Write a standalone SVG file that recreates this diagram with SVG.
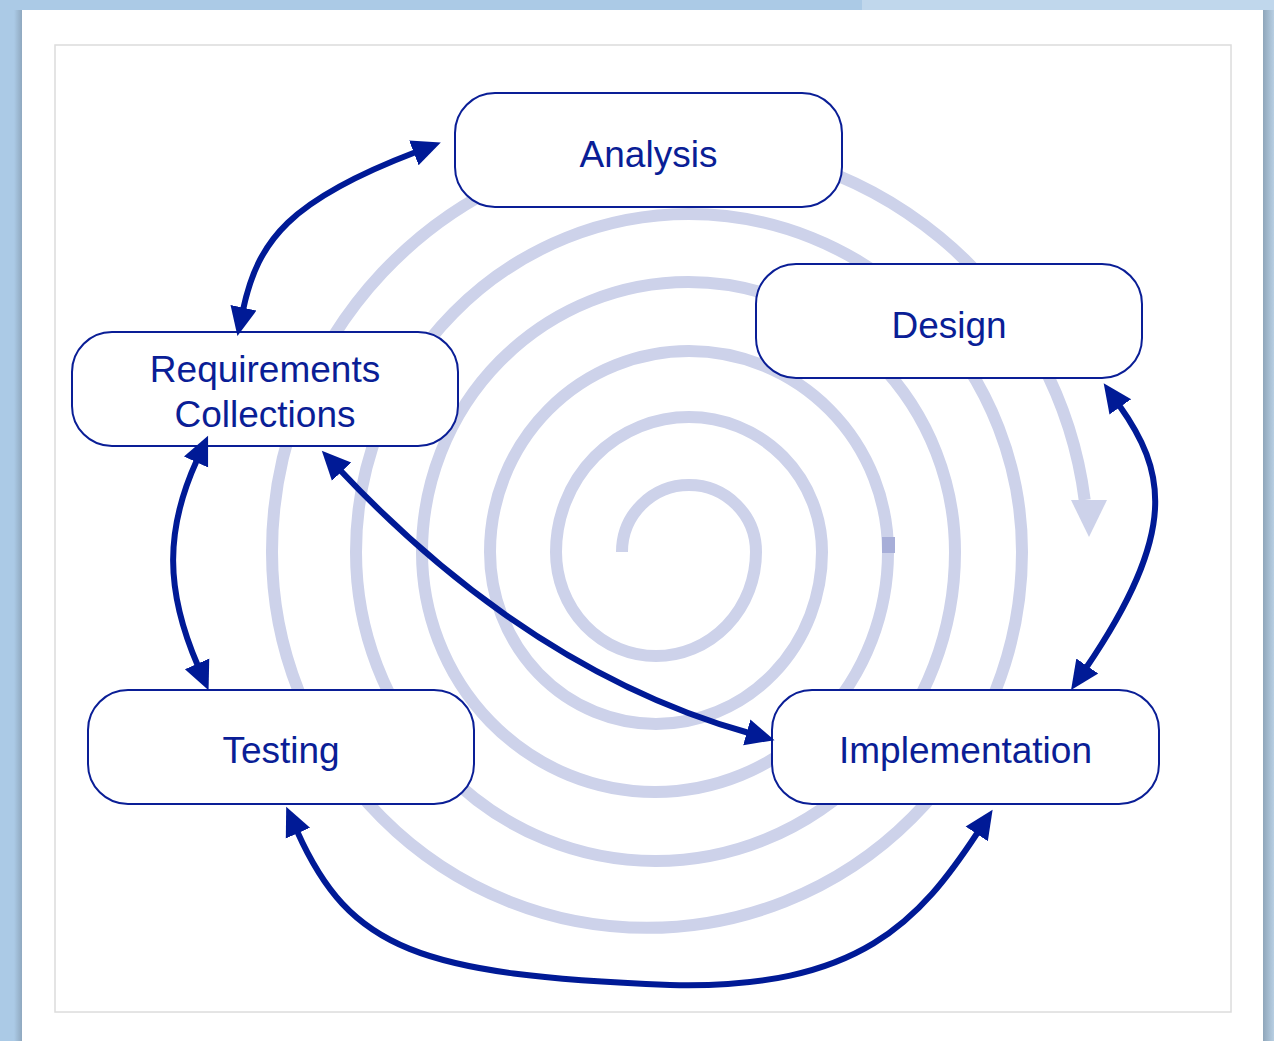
<svg xmlns="http://www.w3.org/2000/svg" width="1274" height="1041" viewBox="0 0 1274 1041">
  <defs>
    <style>
      .box { fill: #ffffff; stroke: #0A1E96; stroke-width: 2; }
      .lbl { font-family: "Liberation Sans", Arial, Helvetica, sans-serif; font-size: 37px; fill: #0A1E96; text-anchor: middle; }
      .conn { fill: none; stroke: #001A96; stroke-width: 6; marker-start: url(#ah); marker-end: url(#ah); }
      .spiral { fill: none; stroke: #CDD2EA; stroke-width: 12; }
    </style>
    <marker id="ah" markerUnits="userSpaceOnUse" markerWidth="30" markerHeight="30" viewBox="0 -12 26 24" refX="2" refY="0" orient="auto-start-reverse">
      <path d="M0,-11.5 L25,0 L0,11.5 z" fill="#001A96"/>
    </marker>
    <linearGradient id="lsh" x1="0" y1="0" x2="1" y2="0">
      <stop offset="0" stop-color="#ABCAE6"/>
      <stop offset="1" stop-color="#8FA8BF"/>
    </linearGradient>
    <linearGradient id="rsh" x1="0" y1="0" x2="1" y2="0">
      <stop offset="0" stop-color="#8FA6BA"/>
      <stop offset="1" stop-color="#B8CFE3"/>
    </linearGradient>
  </defs>

  <!-- background frame -->
  <g id="frame">
    <rect x="0" y="0" width="1274" height="1041" fill="#ABCAE6"/>
    <rect x="862" y="0" width="412" height="12" fill="#C0D7EC"/>
    <rect x="14" y="10" width="8" height="1031" fill="url(#lsh)"/>
    <rect x="1263" y="10" width="11" height="1031" fill="url(#rsh)"/>
    <rect x="22" y="10" width="1241" height="1031" fill="#ffffff"/>
    <rect x="55" y="45" width="1176" height="967" fill="#ffffff" stroke="#DCDCDC" stroke-width="1.5"/>
  </g>

  <!-- spiral -->
  <g id="spiral">
    <path class="spiral" d="M622,552 A67,67 0 0 1 756,552 A100,104 0 0 1 556,552 A133,135 0 0 1 822,552 A166,172 0 0 1 490,552 A199,201 0 0 1 888,552 A233,240 0 0 1 422,552 A266.5,270 0 0 1 955,552 A299.5,309 0 0 1 356,552 A333,338 0 0 1 1022,552 A375,376 0 0 1 272,552 A408,408 0 0 1 1084.7,500"/>
    <polygon points="1071,500 1107,500 1089,537" fill="#CDD2EA"/>
    <rect x="882" y="537" width="13" height="16" fill="#A7AED8"/>
  </g>

  <!-- nodes -->
  <g id="analysis">
    <rect class="box" x="455" y="93" width="387" height="114" rx="40" ry="40"/>
    <text class="lbl" x="648.5" y="167">Analysis</text>
  </g>
  <g id="design">
    <rect class="box" x="756" y="264" width="386" height="114" rx="40" ry="40"/>
    <text class="lbl" x="949" y="338">Design</text>
  </g>
  <g id="requirements">
    <rect class="box" x="72" y="332" width="386" height="114" rx="40" ry="40"/>
    <text class="lbl" x="265" y="382">Requirements</text>
    <text class="lbl" x="265" y="427">Collections</text>
  </g>
  <g id="testing">
    <rect class="box" x="88" y="690" width="386" height="114" rx="40" ry="40"/>
    <text class="lbl" x="281" y="763">Testing</text>
  </g>
  <g id="implementation">
    <rect class="box" x="772" y="690" width="387" height="114" rx="40" ry="40"/>
    <text class="lbl" x="965.5" y="763">Implementation</text>
  </g>

  <!-- connectors -->
  <g id="connectors">
    <path class="conn" d="M243,310 C258,240 290,200 416,152"/>
    <path class="conn" d="M197,460 C165,530 165,590 198,666"/>
    <path class="conn" d="M340,470 C420,555 560,680 749,733"/>
    <path class="conn" d="M1119,405 C1165,470 1180,530 1086,668"/>
    <path class="conn" d="M297,831 C350,950 420,975 670,985 C860,990 920,920 978,832"/>
  </g>
</svg>
